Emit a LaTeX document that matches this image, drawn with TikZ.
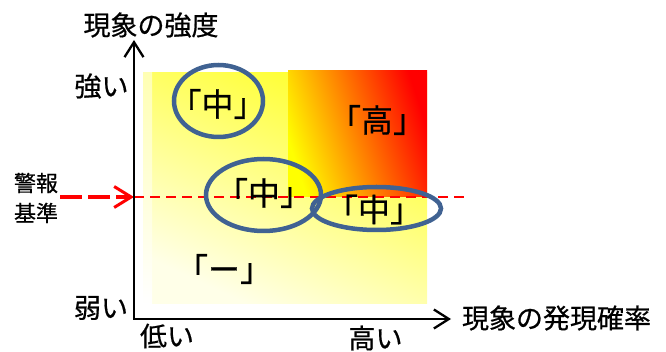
\documentclass[tikz,border=0pt]{standalone}
\usepackage{fontspec}
\newfontfamily\jp{Noto Sans CJK JP}[FakeBold=0.6]
\usetikzlibrary{arrows.meta,fadings,shapes.geometric}
\definecolor{ellblue}{RGB}{64,98,146}
\definecolor{topyel}{RGB}{255,255,40}
\definecolor{midyel}{RGB}{255,255,100}
\definecolor{botyel}{RGB}{255,255,232}
\definecolor{myorange}{RGB}{255,140,0}
\tikzset{
  barb/.tip={Straight Barb[length=15pt,width=19pt,line width=2.3pt]},
  redbarb/.tip={Straight Barb[length=17pt,width=21pt,line width=3pt]}}
\begin{document}
\begin{tikzpicture}[x=1pt,y=-1pt,
  lab/.style={font=\jp\fontsize{27}{27}\selectfont, inner sep=0pt, outer sep=0pt},
  small/.style={font=\jp\fontsize{22}{30}\selectfont, inner sep=0pt, align=center},
  risk/.style={font=\jp\fontsize{32}{32}\selectfont, inner sep=0pt},
  ellnode/.style={ellipse, draw=ellblue, line width=4.5pt, inner sep=0pt, outer sep=0pt},
  axisline/.style={line width=2.5pt, line join=miter}]
\useasboundingbox (0,0) rectangle (666,352);
% background shading
\shade[top color=topyel, middle color=midyel, bottom color=botyel, shading angle=-25] (152,73) rectangle (427,304);
\shade[top color=topyel!35!white, bottom color=white] (143,73) rectangle (152,304);
\shade[top color=red, middle color=myorange, bottom color=yellow, shading angle=-72] (288,71) rectangle (427,197);
% coordinates
\coordinate (O) at (134,319);
\coordinate (ytip) at (134,40);
\coordinate (xtip) at (451,319);
\coordinate (ws) at (60,197);
\coordinate (yc) at (134,197);
\coordinate (we) at (466,197);
% red dashed level
\draw[red, line width=2pt, dash pattern=on 10pt off 6pt] (yc) -- (we);
\draw[red, line width=3.5pt, dash pattern=on 22pt off 6pt, -{redbarb}] (ws) -- (yc);
% axes
\draw[axisline, {barb}-{barb}] (ytip) -- (O) -- (xtip);
% ellipses
\node[ellnode, minimum width=89pt, minimum height=72pt] (e1) at (218.5,101) {};
\node[ellnode, minimum width=115pt, minimum height=72pt] (e2) at (263.5,195) {};
\node[ellnode, minimum width=129pt, minimum height=43pt] (e3) at (376.5,208.5) {};
% risk labels
\node[risk] (m1) at (217.5,104) {「中」};
\node[risk] (m2) at (264,193) {「中」};
\node[risk] (m3) at (374,209.5) {「中」};
\node[risk] (hi) at (377,120) {「高」};
\node[risk] (no) at (224,269) {「ー」};
% axis labels
\node[lab] (ty) at (151,25) {現象の強度};
\node[lab] (tx) at (556.5,318) {現象の発現確率};
\node[lab] (strong) at (101.5,86) {強い};
\node[lab] (weak) at (101,308) {弱い};
\node[lab] (low) at (167,336) {低い};
\node[lab] (high) at (375.5,338) {高い};
\node[small] (warn) at (36,198) {警報\\基準};
\end{tikzpicture}
\end{document}
